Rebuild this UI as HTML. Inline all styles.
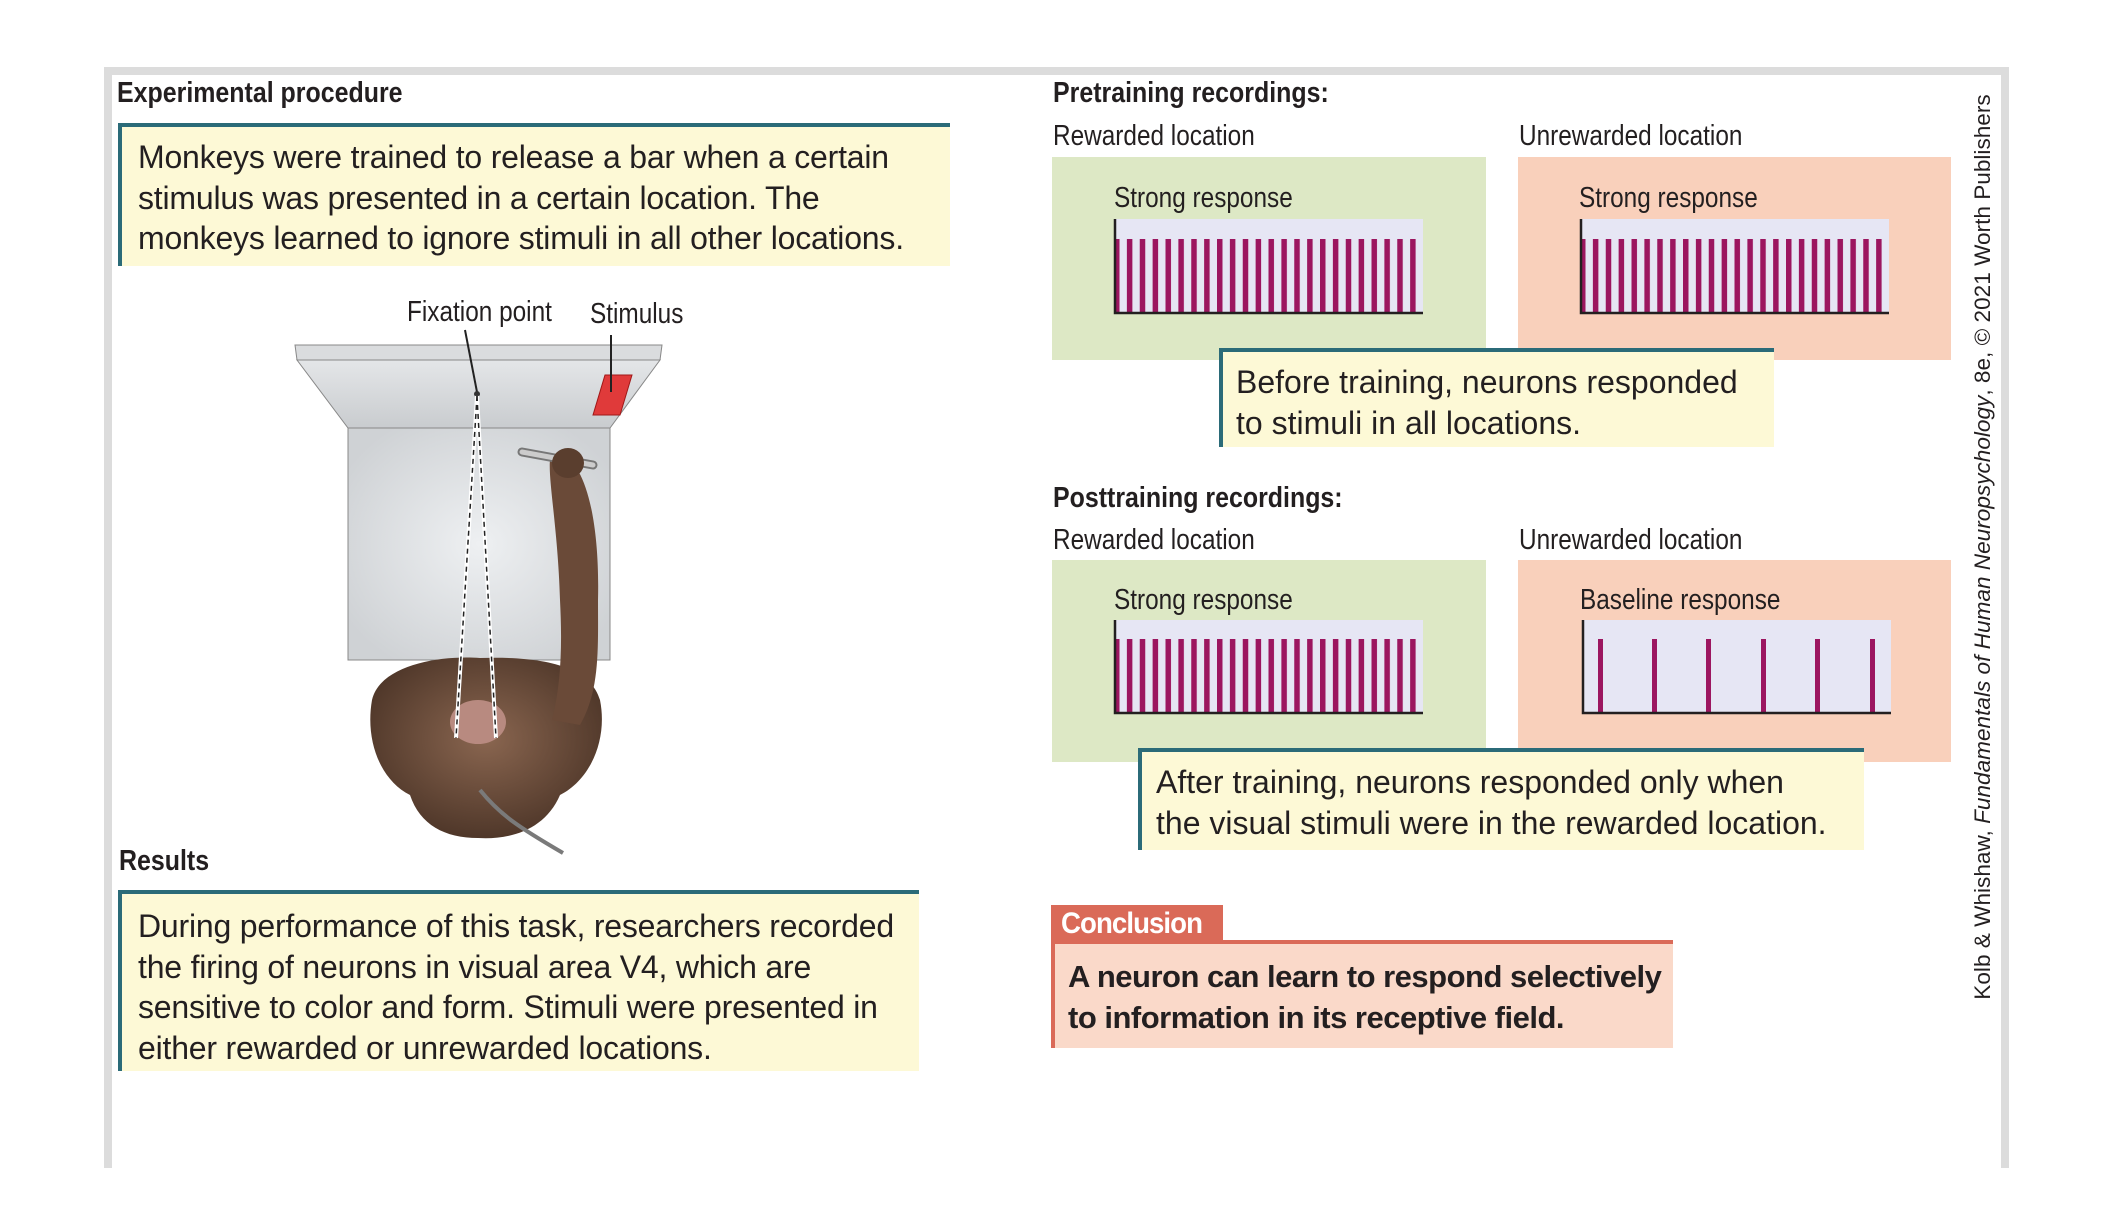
<!DOCTYPE html>
<html><head><meta charset="utf-8">
<style>
html,body{margin:0;padding:0;background:#fff;}
#c{position:relative;width:2104px;height:1212px;overflow:hidden;background:#fff;font-family:"Liberation Sans",sans-serif;color:#231f20;}
.a{position:absolute;white-space:nowrap;}
.h{font-weight:bold;font-size:29px;transform:scaleX(0.86);transform-origin:left top;}
.n{font-size:29px;transform:scaleX(0.84);transform-origin:left top;}
.box{position:absolute;background:#fdf9d6;border-top:4px solid #2b6b78;border-left:4px solid #2b6b78;box-sizing:border-box;}
.t{position:absolute;font-size:32px;line-height:40.5px;white-space:nowrap;}
</style></head><body><div id="c">
<div class="a" style="left:104px;top:67px;width:1905px;height:8px;background:#dcdcdc"></div>
<div class="a" style="left:104px;top:67px;width:8px;height:1101px;background:#dcdcdc"></div>
<div class="a" style="left:2001px;top:67px;width:8px;height:1101px;background:#dcdcdc"></div>

<div class="a h" style="left:117px;top:77px">Experimental procedure</div>
<div class="box" style="left:118px;top:123px;width:832px;height:143px"></div>
<div class="t" style="left:138px;top:137px;letter-spacing:-0.2px">Monkeys were trained to release a bar when a certain<br>stimulus was presented in a certain location. The<br>monkeys learned to ignore stimuli in all other locations.</div>

<div class="a n" style="left:407px;top:296px">Fixation point</div>
<div class="a n" style="left:590px;top:298px">Stimulus</div>

<svg class="a" style="left:0;top:0" width="2104" height="1212">
 <defs>
  <linearGradient id="g1" x1="0" y1="0" x2="0" y2="1"><stop offset="0" stop-color="#e4e6e8"/><stop offset="1" stop-color="#c9cccf"/></linearGradient>
  <radialGradient id="g2" cx="0.5" cy="0.5" r="0.6"><stop offset="0" stop-color="#eef0f2"/><stop offset="1" stop-color="#cfd2d5"/></radialGradient>
  <radialGradient id="fur" cx="0.5" cy="0.45" r="0.6"><stop offset="0" stop-color="#8a6650"/><stop offset="1" stop-color="#4a3326"/></radialGradient>
  <pattern id="bars" x="1114" y="0" width="12.875" height="10" patternUnits="userSpaceOnUse">
   <rect x="0" y="0" width="12.875" height="10" fill="#e6e6f4"/>
   <rect x="0" y="0" width="5.5" height="10" fill="#9c1660"/>
  </pattern>
  <pattern id="bars2" x="1580" y="0" width="12.875" height="10" patternUnits="userSpaceOnUse">
   <rect x="0" y="0" width="12.875" height="10" fill="#e6e6f4"/>
   <rect x="0" y="0" width="5.5" height="10" fill="#9c1660"/>
  </pattern>
 </defs>
 <polygon points="295,345 662,345 660,360 297,360" fill="#dadcde" stroke="#888" stroke-width="1"/>
 <polygon points="297,360 660,360 610,428 348,428" fill="url(#g1)" stroke="#888" stroke-width="1"/>
 <rect x="348" y="428" width="262" height="232" fill="url(#g2)" stroke="#888" stroke-width="1"/>
 <polygon points="605,375 632,375 620,415 593,415" fill="#e03a3a" stroke="#a01818" stroke-width="1"/>
 <path d="M372,700 C380,665 440,655 480,658 C540,656 590,665 600,700 C608,740 590,780 560,795 C545,830 510,840 478,838 C445,838 420,825 410,795 C380,780 365,740 372,700 Z" fill="url(#fur)"/>
 <ellipse cx="478" cy="722" rx="28" ry="22" fill="#b88a80"/>
 <path d="M560,455 C585,460 600,520 598,600 C598,650 600,690 580,725 L552,720 C562,680 562,640 560,600 C558,530 548,480 550,460 Z" fill="#6a4a38"/>
 <line x1="522" y1="452" x2="593" y2="465" stroke="#777" stroke-width="9" stroke-linecap="round"/>
 <line x1="522" y1="452" x2="593" y2="465" stroke="#ccc" stroke-width="5" stroke-linecap="round"/>
 <ellipse cx="568" cy="463" rx="16" ry="15" fill="#5a3e2e"/>
 <path d="M480,790 C500,815 520,828 563,853" fill="none" stroke="#7a7a7a" stroke-width="4"/>
 <line x1="465" y1="330" x2="477" y2="392" stroke="#222" stroke-width="2"/>
 <line x1="611" y1="335" x2="611" y2="392" stroke="#222" stroke-width="2"/>
 <circle cx="477" cy="394" r="3" fill="#333"/>
 <line x1="477" y1="396" x2="456" y2="738" stroke="#fff" stroke-width="4"/>
 <line x1="477" y1="396" x2="496" y2="738" stroke="#fff" stroke-width="4"/>
 <line x1="477" y1="396" x2="456" y2="738" stroke="#222" stroke-width="1.5" stroke-dasharray="5,4"/>
 <line x1="477" y1="396" x2="496" y2="738" stroke="#222" stroke-width="1.5" stroke-dasharray="5,4"/>

 <rect x="1052" y="157" width="434" height="203" fill="#dde8c5"/>
 <rect x="1518" y="157" width="433" height="203" fill="#f9d0bb"/>
 <rect x="1052" y="560" width="434" height="202" fill="#dde8c5"/>
 <rect x="1518" y="560" width="433" height="202" fill="#f9d0bb"/>
 <rect x="1114" y="219" width="309" height="94" fill="#e6e6f4"/>
 <rect x="1114" y="239" width="309" height="74" fill="url(#bars)"/>
 <rect x="1580" y="219" width="309" height="94" fill="#e6e6f4"/>
 <rect x="1580" y="239" width="309" height="74" fill="url(#bars2)"/>
 <rect x="1114" y="620" width="309" height="93" fill="#e6e6f4"/>
 <rect x="1114" y="639" width="309" height="74" fill="url(#bars)"/>
 <rect x="1582" y="620" width="309" height="93" fill="#e6e6f4"/>
 <g fill="#9c1660">
  <rect x="1598" y="639" width="5" height="74"/><rect x="1652" y="639" width="5" height="74"/>
  <rect x="1706" y="639" width="5" height="74"/><rect x="1761" y="639" width="5" height="74"/>
  <rect x="1815" y="639" width="5" height="74"/><rect x="1870" y="639" width="5" height="74"/>
 </g>
 <g stroke="#231f20" stroke-width="2.5" fill="none">
  <polyline points="1115,219 1115,313 1423,313"/>
  <polyline points="1581,219 1581,313 1889,313"/>
  <polyline points="1115,620 1115,713 1423,713"/>
  <polyline points="1583,620 1583,713 1891,713"/>
 </g>
</svg>

<div class="a h" style="left:119px;top:845px">Results</div>
<div class="box" style="left:118px;top:890px;width:801px;height:181px"></div>
<div class="t" style="left:138px;top:906px;letter-spacing:-0.2px">During performance of this task, researchers recorded<br>the firing of neurons in visual area V4, which are<br>sensitive to color and form. Stimuli were presented in<br>either rewarded or unrewarded locations.</div>

<div class="a h" style="left:1053px;top:77px">Pretraining recordings:</div>
<div class="a n" style="left:1053px;top:120px">Rewarded location</div>
<div class="a n" style="left:1519px;top:120px">Unrewarded location</div>
<div class="a n" style="left:1114px;top:182px">Strong response</div>
<div class="a n" style="left:1579px;top:182px">Strong response</div>

<div class="box" style="left:1219px;top:348px;width:555px;height:99px"></div>
<div class="t" style="left:1236px;top:362px">Before training, neurons responded<br>to stimuli in all locations.</div>

<div class="a h" style="left:1053px;top:482px">Posttraining recordings:</div>
<div class="a n" style="left:1053px;top:524px">Rewarded location</div>
<div class="a n" style="left:1519px;top:524px">Unrewarded location</div>
<div class="a n" style="left:1114px;top:584px">Strong response</div>
<div class="a n" style="left:1580px;top:584px">Baseline response</div>

<div class="box" style="left:1138px;top:748px;width:726px;height:102px"></div>
<div class="t" style="left:1156px;top:762px">After training, neurons responded only when<br>the visual stimuli were in the rewarded location.</div>

<div class="a" style="left:1051px;top:905px;width:172px;height:38px;background:#da6a58"></div>
<div class="a" style="left:1061px;top:905px;font-size:30px;font-weight:bold;color:#fff;line-height:38px;letter-spacing:-1px;transform:scaleX(0.92);transform-origin:left top">Conclusion</div>
<div class="a" style="left:1051px;top:940px;width:622px;height:108px;background:#fad9c9;border-top:4px solid #da6a58;border-left:4px solid #da6a58;box-sizing:border-box"></div>
<div class="t" style="left:1068px;top:957px;font-weight:bold;font-size:31px;letter-spacing:-0.5px">A neuron can learn to respond selectively<br>to information in its receptive field.</div>

<div class="a" style="left:1983px;top:547px;font-size:22.6px;transform:translate(-50%,-50%) rotate(-90deg);color:#231f20">Kolb &amp; Whishaw, <i>Fundamentals of Human Neuropsychology</i>, 8e, © 2021 Worth Publishers</div>
</div></body></html>
